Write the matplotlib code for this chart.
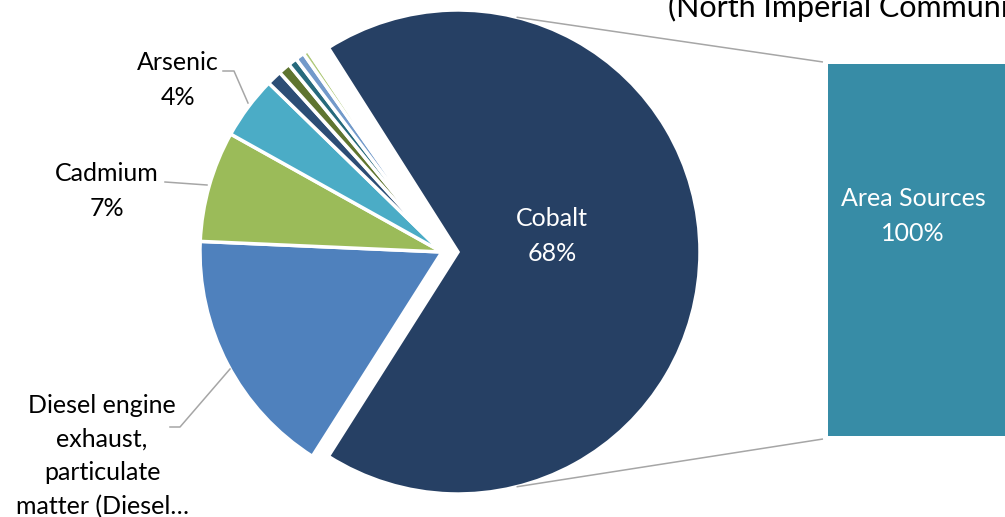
import numpy as np
import matplotlib
matplotlib.use("Agg")
import matplotlib.pyplot as plt

# pollutant shares of cancer risk (percent), largest first
pollutants = ["Cobalt", "Diesel engine\nexhaust,\nparticulate\nmatter (Diesel\u2026", "Cadmium", "Arsenic",
              "", "", "", "", "", "", ""]
shares = [68.0, 16.7, 7.4, 4.2, 1.0, 0.8, 0.6, 0.6, 0.35, 0.15, 0.2]
slice_colors = ["#264064", "#4f81bd", "#9bbb59", "#4bacc6",
                "#2c4d75", "#5f7530", "#276a7c", "#729aca", "#afc97a", "#c9d9ee", "#3d6aa8"]

# source breakdown shown in the bar
source_types = ["Area Sources"]
source_shares = [100]
bar_color = "#378ca6"

W, H = 1005, 517
plt.rcParams["font.family"] = ["Lato", "DejaVu Sans"]

fig = plt.figure(figsize=(W / 100, H / 100), dpi=100)

# bar of the breakdown (drawn first so the pie axes and its texts sit on top)
bax = fig.add_axes([828 / W, (H - 436) / H, (1012 - 828) / W, (436 - 64) / H])
bax.bar([0], source_shares, width=1, color=bar_color)
bax.set_xlim(-0.5, 0.5)
bax.set_ylim(0, 100)
bax.axis("off")

ax = fig.add_axes([0, 0, 1, 1])
ax.patch.set_alpha(0)

# pie: first slice centred on the right, the rest run clockwise
r = 242
cx, cy = 442, H - 252
pull = 16
start = 180 * shares[0] / 100
wedges, _ = ax.pie(shares, colors=slice_colors, startangle=start, counterclock=False,
                   explode=[pull] + [0] * (len(shares) - 1), radius=r, center=(cx, cy),
                   wedgeprops=dict(edgecolor="white", linewidth=2.5), frame=True)
ax.set_xlim(0, W)
ax.set_ylim(0, H)
ax.set_aspect("equal")
ax.axis("off")

# connector lines from the main slice to the bar
bx0, by_top, by_bot = 823, H - 62, H - 439
ccx = cx + pull
for a, by in [(76, by_top), (-76, by_bot)]:
    sx = ccx + r * np.cos(np.radians(a))
    sy = cy + r * np.sin(np.radians(a))
    ax.plot([sx, bx0], [sy, by], color="#a6a6a6", lw=1.1, solid_capstyle="butt")

# leader lines for the outside labels
grey = dict(color="#a6a6a6", lw=1.1)
ax.plot([223, 234, 248], [H - 71, H - 71, H - 103], **grey)
ax.plot([165, 207], [H - 182, H - 185], **grey)
ax.plot([170, 180, 230], [H - 427, H - 427, H - 369], **grey)

def pct(v):
    return f"{v:.0f}%"

fs = 18
ls = 1.6
ax.text(552, H - 236, f"{pollutants[0]}\n{pct(shares[0])}", color="white", ha="center",
        va="center", fontsize=fs, linespacing=ls)
ax.text(178, H - 80, f"{pollutants[3]}\n{pct(shares[3])}", ha="center", va="center",
        fontsize=fs, linespacing=ls)
ax.text(107, H - 191, f"{pollutants[2]}\n{pct(shares[2])}", ha="center", va="center",
        fontsize=fs, linespacing=ls)
ax.text(102, H - 456, pollutants[1], ha="center", va="center", fontsize=fs, linespacing=1.55)
ax.text(913, H - 216, f"{source_types[0]}\n{source_shares[0]}%", color="white",
        ha="center", va="center", fontsize=fs, linespacing=ls)

# title, second line
fig.text(668 / W, (H - 17) / H, "(North Imperial Community)", fontsize=22, va="baseline",
         ha="left")

fig.savefig("out.png", dpi=100)
